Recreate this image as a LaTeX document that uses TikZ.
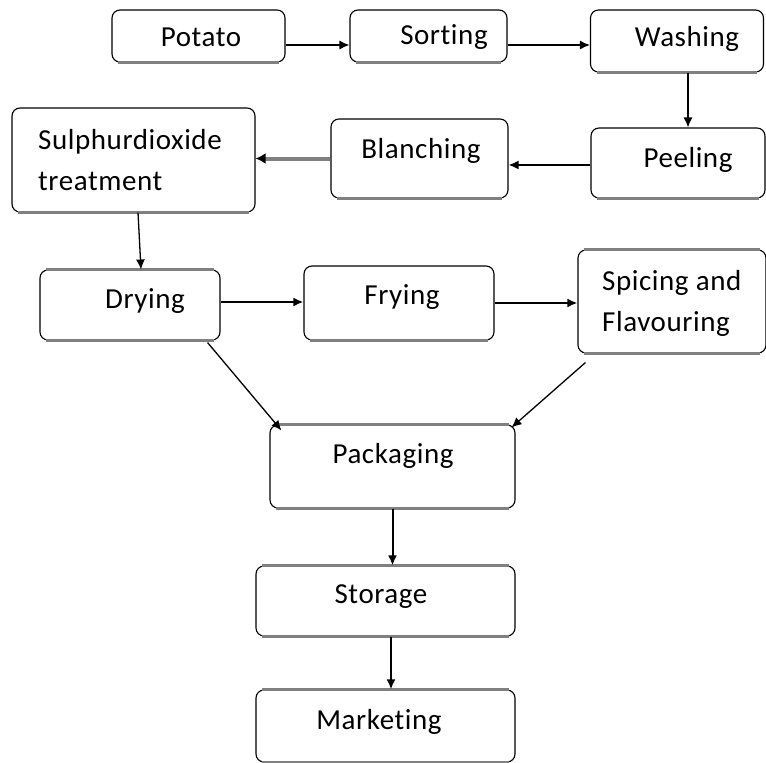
\documentclass[tikz,border=0pt]{standalone}
\usepackage{fontspec}
\setmainfont{Carlito}[Ligatures={NoCommon}, LetterSpace=2]
\usetikzlibrary{arrows.meta}
\tikzset{
  box/.style={draw=black, line width=1.1pt, rounded corners=8pt, inner sep=0pt, fill=white},
  edgegray/.style={draw=black!50, line width=3.5pt},
  arr/.style={draw=black, line width=1.3pt, -{Latex[length=10pt,width=9pt]}},
  arrgray/.style={draw=black!50, line width=4pt, -{Latex[length=10pt,width=11pt,color=black]}},
  lbl/.style={font=\fontsize{29}{41}\selectfont, inner sep=0pt, text=black}
}
\newcommand{\grayedges}[2]{%
  \draw[edgegray] ([xshift=7pt]#1.south west) -- ([xshift=-7pt]#1.south east);
  \ifnum#2=1 \draw[edgegray] ([xshift=7pt]#1.north west) -- ([xshift=-7pt]#1.north east);\fi}
\begin{document}
\begin{tikzpicture}[x=1pt,y=-1pt]
\useasboundingbox (0,0) rectangle (766,763);
% boxes
\node[box, minimum width=173pt, minimum height=52pt] (potato) at (198.5,36) {};
\node[box, minimum width=157pt, minimum height=52pt] (sorting) at (428.5,36) {};
\node[box, minimum width=173pt, minimum height=62pt] (washing) at (677,41) {};
\node[box, minimum width=174pt, minimum height=70pt] (peeling) at (678,163) {};
\node[box, minimum width=177pt, minimum height=79pt] (blanching) at (419.5,158.5) {};
\node[box, minimum width=243pt, minimum height=104pt] (sulphur) at (133.5,160) {};
\node[box, minimum width=180pt, minimum height=70pt] (drying) at (130,305) {};
\node[box, minimum width=190pt, minimum height=74pt] (frying) at (399,303) {};
\node[box, minimum width=188pt, minimum height=103pt] (spicing) at (672,301.5) {};
\node[box, minimum width=245pt, minimum height=83pt] (packaging) at (392.5,466.5) {};
\node[box, minimum width=259pt, minimum height=70pt] (storage) at (385.5,601) {};
\node[box, minimum width=259pt, minimum height=72pt] (marketing) at (385.5,726) {};
\grayedges{potato}{0}
\grayedges{sorting}{0}
\grayedges{washing}{0}
\grayedges{peeling}{0}
\grayedges{blanching}{0}
\grayedges{sulphur}{0}
\grayedges{drying}{1}
\grayedges{frying}{0}
\grayedges{spicing}{1}
\grayedges{packaging}{1}
\grayedges{storage}{1}
\grayedges{marketing}{1}
% labels
\node[lbl] (tpotato) at (201,37) {Potato};
\node[lbl] (tsorting) at (444,37) {Sorting};
\node[lbl] (twashing) at (687,39) {Washing};
\node[lbl] (tpeeling) at (688,160) {Peeling};
\node[lbl] (tblanching) at (421,151) {Blanching};
\node[lbl, anchor=west, align=left] (tsulphur) at (38,160) {Sulphurdioxide\\treatment};
\node[lbl] (tdrying) at (145,301) {Drying};
\node[lbl] (tfrying) at (402,297) {Frying};
\node[lbl, anchor=west, align=left] (tspicing) at (602,303) {Spicing and\\Flavouring};
\node[lbl] (tpackaging) at (393,456) {Packaging};
\node[lbl] (tstorage) at (381,597) {Storage};
\node[lbl] (tmarketing) at (379,722) {Marketing};
% connectors
\draw[arr] ([yshift=-9pt]potato.east) -- ([yshift=-9pt]potato.east -| sorting.west);
\draw[arr] ([yshift=-9pt]sorting.east) -- ([yshift=-9pt]sorting.east -| washing.west);
\draw[arr] ([xshift=11pt]washing.south) -- ([xshift=11pt]washing.south |- peeling.north);
\draw[arr, line width=1.8pt] ([yshift=-2pt]peeling.west) -- ([yshift=-2pt]peeling.west -| blanching.east);
\draw[arrgray] (blanching.west) -- (blanching.west -| sulphur.east);
\draw[arr] ([xshift=4.5pt]sulphur.south) -- ([xshift=11pt]drying.north);
\draw[arr, line width=2pt] ([yshift=3pt]drying.east) -- ([yshift=3pt]drying.east -| frying.west);
\draw[arr, line width=2pt] (frying.east) -- (frying.east -| spicing.west);
\draw[arr] ([xshift=-13pt,yshift=-2pt]drying.south east) -- ([xshift=12pt,yshift=-6pt]packaging.north west);
\draw[arr] ([xshift=8pt,yshift=-9pt]spicing.south west) -- ([xshift=-4pt,yshift=-3pt]packaging.north east);
\draw[arr, line width=2pt] (packaging.south) -- (packaging.south |- storage.north);
\draw[arr, line width=2pt] ([xshift=5.5pt]storage.south) -- ([xshift=5.5pt]storage.south |- marketing.north);
\end{tikzpicture}
\end{document}
